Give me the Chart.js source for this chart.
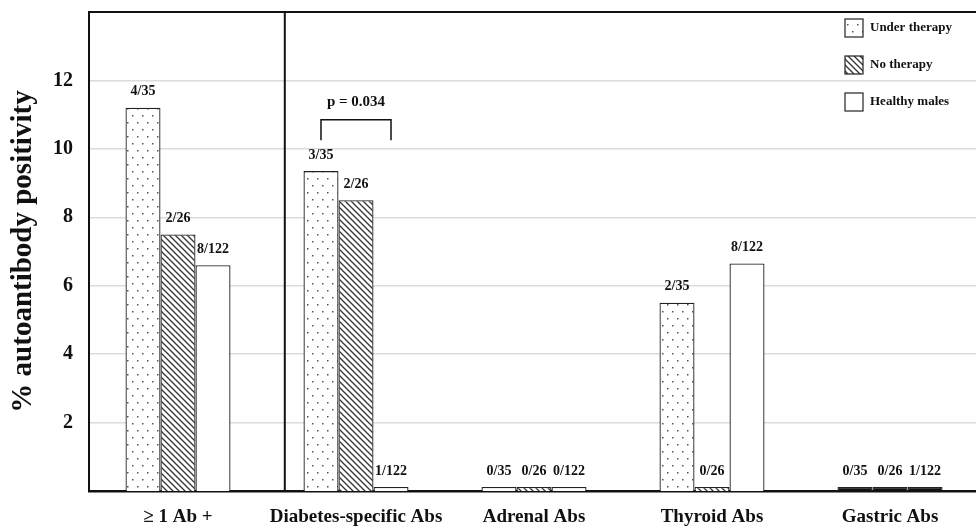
<!DOCTYPE html>
<html>
<head>
<meta charset="utf-8">
<script src="https://cdn.jsdelivr.net/npm/chart.js@4.4.1/dist/chart.umd.min.js"></script>
<style>
  html, body { margin: 0; padding: 0; background: #fff; overflow: hidden; }
  #chart { display: block; }
</style>
</head>
<body>
<canvas id="chart" width="980" height="528" style="width:980px;height:528px"></canvas>
<script>
// autoantibody positivity by group
const CATEGORIES = ["≥ 1 Ab +", "Diabetes-specific Abs", "Adrenal Abs", "Thyroid Abs", "Gastric Abs"];
const SERIES = ["Under therapy", "No therapy", "Healthy males"];
const UNDER_THERAPY = [11.2, 9.35, 0.12, 5.5, 0.12];
const NO_THERAPY = [7.5, 8.5, 0.12, 0.12, 0.12];
const HEALTHY_MALES = [6.6, 0.12, 0.12, 6.65, 0.12];
const UNDER_LABELS = ["4/35", "3/35", "0/35", "2/35", "0/35"];
const NO_LABELS = ["2/26", "2/26", "0/26", "0/26", "0/26"];
const HEALTHY_LABELS = ["8/122", "1/122", "0/122", "8/122", "1/122"];
const Y_TICKS = [2, 4, 6, 8, 10, 12];
const P_TEXT = "p = 0.034";
const BRACKET = { index: 1, top: 10.85, bottom: 10.25 }; // Diabetes group, under vs healthy

const SERIF = "'Liberation Serif', 'Times New Roman', serif";

// --- fill patterns ----------------------------------------------------------
function dotPattern() {
  const c = document.createElement("canvas");
  c.width = 10; c.height = 14;
  const g = c.getContext("2d");
  g.fillStyle = "#fff"; g.fillRect(0, 0, 10, 14);
  g.fillStyle = "#555";
  g.fillRect(2, 3, 1.5, 1.5);
  g.fillRect(7, 10, 1.5, 1.5);
  return g.createPattern(c, "repeat");
}
function hatchPattern() {
  const c = document.createElement("canvas");
  c.width = 6; c.height = 6;
  const g = c.getContext("2d");
  g.fillStyle = "#fff"; g.fillRect(0, 0, 6, 6);
  g.strokeStyle = "#333"; g.lineWidth = 1.3;
  g.beginPath();
  g.moveTo(-1, -1); g.lineTo(7, 7);
  g.moveTo(-1, 5); g.lineTo(1, 7);
  g.moveTo(5, -1); g.lineTo(7, 1);
  g.stroke();
  return g.createPattern(c, "repeat");
}
const FILLS = [dotPattern(), hatchPattern(), "#fff"];
const BAR_LABELS = [UNDER_LABELS, NO_LABELS, HEALTHY_LABELS];

// gastric bars are printed solid black in the figure
const fillFor = i => ctx => ctx.dataIndex === 4 ? "#111" : FILLS[i];

// --- extras: frame top, divider, value labels, bracket, legend -------------
const extras = {
  id: "extras",
  afterDatasetsDraw(chart) {
    const { ctx, chartArea: a, scales: { x, y } } = chart;
    ctx.save();
    // top of frame
    ctx.strokeStyle = "#111"; ctx.lineWidth = 2;
    ctx.beginPath(); ctx.moveTo(a.left - 1, a.top); ctx.lineTo(a.right, a.top); ctx.stroke();
    // divider between overall and per-antibody groups
    const step = x.getPixelForValue(1) - x.getPixelForValue(0);
    const dx = x.getPixelForValue(0) + step * 0.6;
    ctx.beginPath(); ctx.moveTo(dx, a.top); ctx.lineTo(dx, a.bottom); ctx.stroke();

    // n/N labels above bars
    ctx.fillStyle = "#111";
    ctx.font = `bold 14px ${SERIF}`;
    ctx.textAlign = "center"; ctx.textBaseline = "bottom";
    chart.data.datasets.forEach((ds, di) => {
      chart.getDatasetMeta(di).data.forEach((el, i) => {
        ctx.fillText(BAR_LABELS[di][i], el.x, el.y - 9);
      });
    });

    // significance bracket
    const e0 = chart.getDatasetMeta(0).data[BRACKET.index];
    const e2 = chart.getDatasetMeta(2).data[BRACKET.index];
    const yt = y.getPixelForValue(BRACKET.top), yb = y.getPixelForValue(BRACKET.bottom);
    ctx.lineWidth = 1.5;
    ctx.beginPath();
    ctx.moveTo(e0.x, yb); ctx.lineTo(e0.x, yt); ctx.lineTo(e2.x, yt); ctx.lineTo(e2.x, yb);
    ctx.stroke();
    ctx.font = `bold 15px ${SERIF}`;
    ctx.fillText(P_TEXT, (e0.x + e2.x) / 2, yt - 10);

    // legend
    const lx = a.right - 134;
    ctx.textAlign = "left"; ctx.textBaseline = "middle";
    ctx.font = `bold 13px ${SERIF}`;
    SERIES.forEach((s, i) => {
      const ly = 28 + i * 37;
      ctx.fillStyle = FILLS[i];
      ctx.fillRect(lx, ly - 9, 18, 18);
      ctx.strokeStyle = "#222"; ctx.lineWidth = 1.2;
      ctx.strokeRect(lx, ly - 9, 18, 18);
      ctx.fillStyle = "#111";
      ctx.fillText(s, lx + 25, ly);
    });
    ctx.restore();
  }
};

const datasets = [UNDER_THERAPY, NO_THERAPY, HEALTHY_MALES].map((d, i) => ({
  label: SERIES[i],
  data: d,
  backgroundColor: fillFor(i),
  borderColor: "#222",
  borderWidth: 1.3,
  categoryPercentage: 0.59,
  barPercentage: 1.0,
}));

new Chart(document.getElementById("chart"), {
  type: "bar",
  data: { labels: CATEGORIES, datasets },
  options: {
    responsive: false,
    animation: false,
    layout: { padding: { top: 12, right: 1, left: 0, bottom: 0 } },
    plugins: { legend: { display: false }, tooltip: { enabled: false } },
    scales: {
      x: {
        grid: { display: false },
        border: { color: "#111", width: 2.5 },
        ticks: {
          color: "#111", font: { family: SERIF, size: 19, weight: "bold" }, padding: 7,
          maxRotation: 0, minRotation: 0, autoSkip: false,
        },
        afterFit: s => { s.height = 37; s.paddingLeft = 0; s.paddingRight = 0; },
      },
      y: {
        min: 0, max: 14,
        afterBuildTicks: s => { s.ticks = Y_TICKS.map(v => ({ value: v })); },
        grid: { color: "#dcdcdc", lineWidth: 1.5, drawTicks: false },
        border: { color: "#111", width: 2 },
        ticks: { color: "#111", font: { family: SERIF, size: 20, weight: "bold" }, padding: 16 },
        title: {
          display: true, text: "% autoantibody positivity", color: "#111",
          font: { family: SERIF, size: 29, weight: "bold" }, padding: { top: 6, bottom: 0 },
        },
        afterFit: s => { s.width = 89; s.paddingTop = 0; s.paddingBottom = 0; },
      },
    },
  },
  plugins: [extras],
});
</script>
</body>
</html>
